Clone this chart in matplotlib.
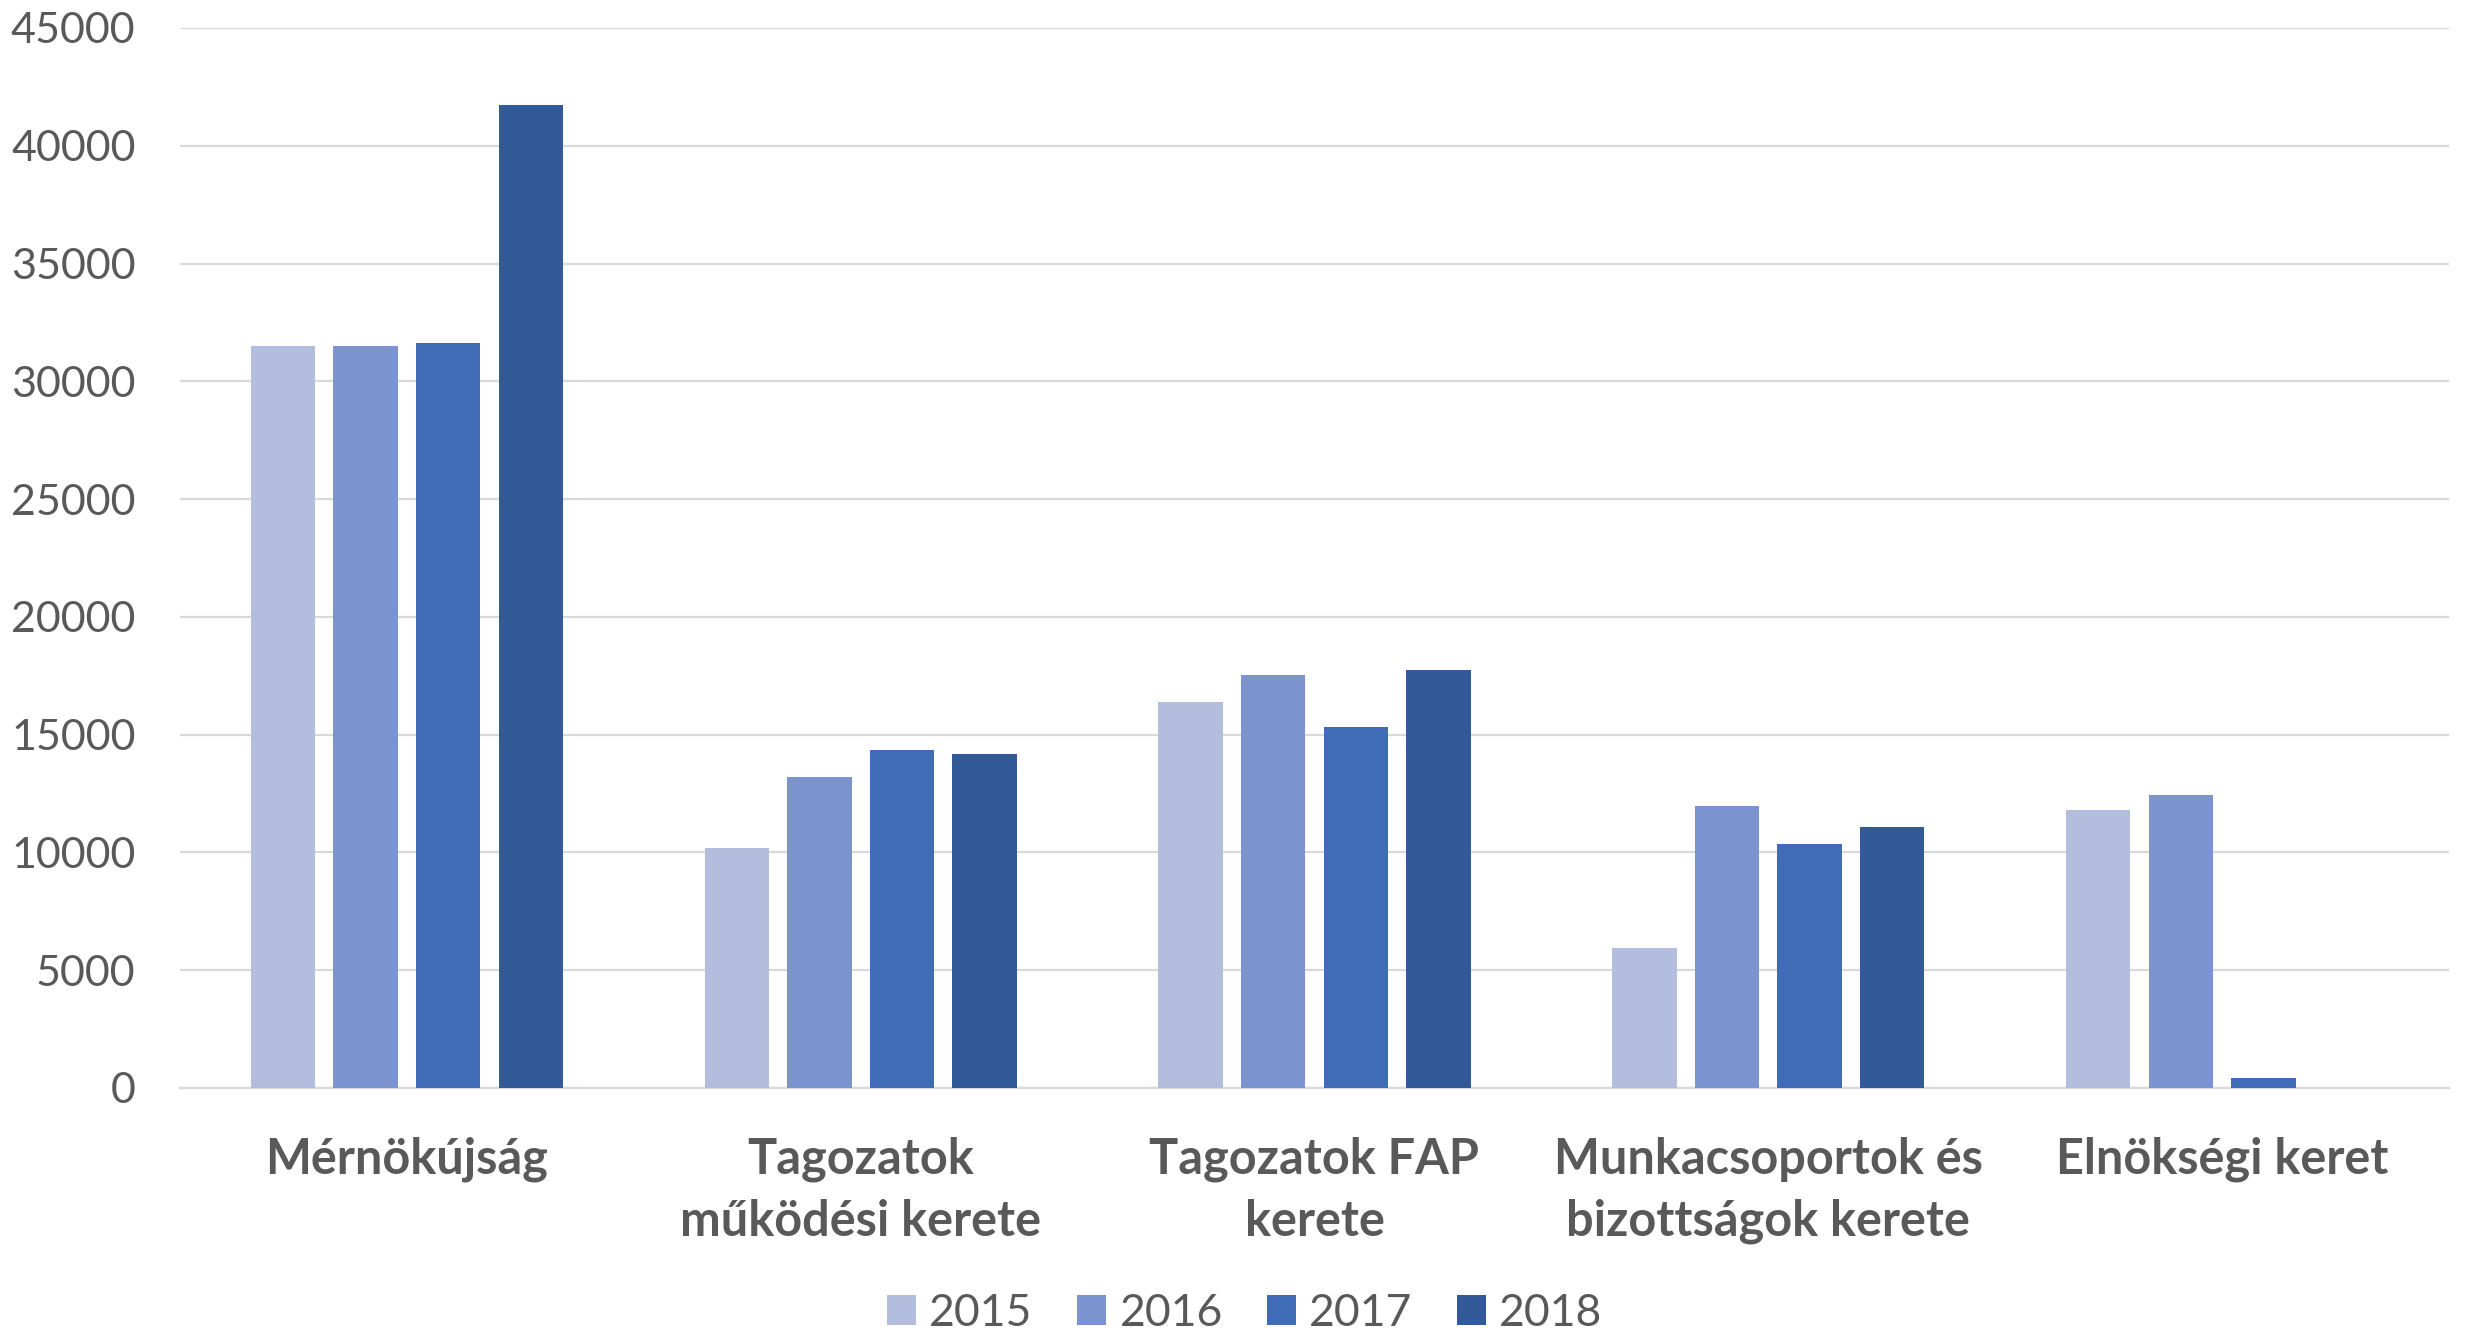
import numpy as np
import matplotlib.pyplot as plt

categories = ['Mérnökújság', 'Tagozatok\nműködési kerete', 'Tagozatok FAP\nkerete',
              'Munkacsoportok és\nbizottságok kerete', 'Elnökségi keret']
years = ['2015', '2016', '2017', '2018']
v2015 = [31500, 10180, 16400, 5930, 11820]
v2016 = [31490, 13200, 17550, 11950, 12420]
v2017 = [31630, 14330, 15320, 10340, 420]
v2018 = [41730, 14160, 17740, 11060, 0]
yticks = [0, 5000, 10000, 15000, 20000, 25000, 30000, 35000, 40000, 45000]

colors = ['#B3BEDF', '#7B93CE', '#406BB6', '#335A98']
txt = '#595959'

plt.rcParams['font.family'] = ['Lato', 'DejaVu Sans']

fig = plt.figure(figsize=(24.65, 13.31), dpi=100)
ax = fig.add_axes([0.073, 0.1826, 0.9205, 0.7964])

x = np.arange(len(categories))
w = 0.142
step = 0.182
series = [v2015, v2016, v2017, v2018]
for i, vals in enumerate(series):
    ax.bar(x + (i - 1.5) * step, vals, width=w, color=colors[i], label=years[i], zorder=3)

ax.set_xlim(-0.5, len(categories) - 0.5)
ax.set_ylim(0, 45000)
ax.set_yticks(yticks)
ax.set_yticklabels([str(t) for t in yticks])
ax.grid(True, axis='y', color='#D9D9D9', linewidth=1.6, zorder=0)
for s in ['top', 'right', 'left']:
    ax.spines[s].set_visible(False)
ax.spines['bottom'].set_color('#D9D9D9')
ax.spines['bottom'].set_linewidth(1.6)
ax.tick_params(axis='y', length=0, pad=32, labelsize=31, labelcolor=txt)
ax.tick_params(axis='x', length=0, pad=35, labelsize=35, labelcolor=txt)
ax.set_xticks(x)
ax.set_xticklabels(categories, fontweight='bold', linespacing=1.45)

fig.legend(loc='lower center', bbox_to_anchor=(0.505, -0.032), ncol=4, frameon=False,
           fontsize=32, labelcolor=txt, handlelength=0.65, handleheight=0.65,
           handletextpad=0.3, columnspacing=1.0)

plt.savefig('out.png', dpi=100)
plt.close()
